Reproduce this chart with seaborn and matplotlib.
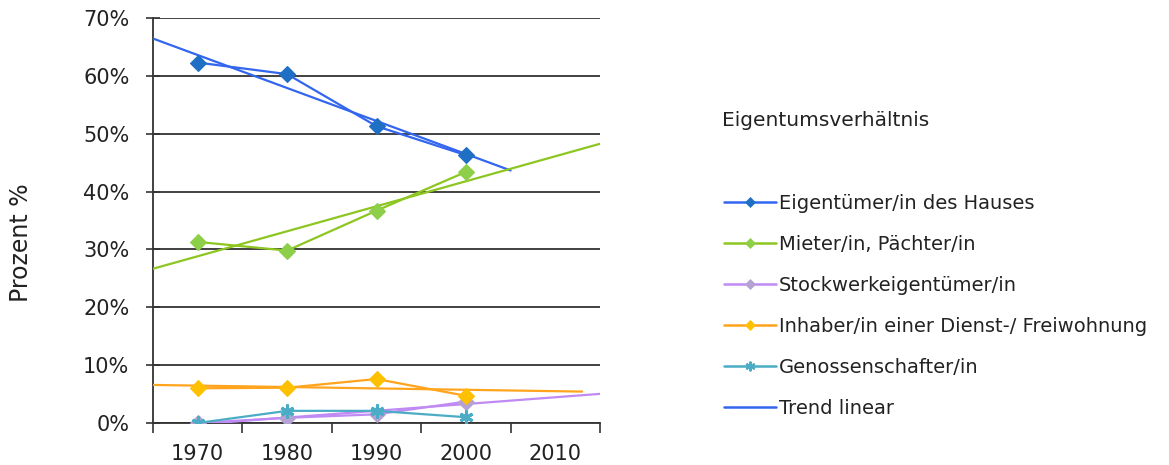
import numpy as np
import pandas as pd
import matplotlib
matplotlib.use("Agg")
import matplotlib.pyplot as plt
import seaborn as sns
from matplotlib.lines import Line2D

# --- data (percent of households by tenure) ---
years = ["1970", "1980", "1990", "2000", "2010"]
eigentuemer = [62.3, 60.3, 51.3, 46.3]
mieter = [31.3, 29.8, 36.7, 43.4]
stockwerk = [0.0, 0.9, 1.5, 3.7]
inhaber = [6.0, 6.1, 7.6, 4.7]
genossen = [0.0, 2.1, 2.1, 1.0]

series_names = [
    "Eigentümer/in des Hauses",
    "Mieter/in, Pächter/in",
    "Stockwerkeigentümer/in",
    "Inhaber/in einer Dienst-/ Freiwohnung",
    "Genossenschafter/in",
]
series_values = [eigentuemer, mieter, stockwerk, inhaber, genossen]

line_colors = ["#3366EE", "#8DC620", "#C08AF5", "#FFA41C", "#4BACC6"]
marker_colors = ["#1F6FC4", "#8ECF4A", "#B3A2D2", "#FFC000", "#4BACC6"]
markers = ["D", "D", "D", "D", (6, 2, 0)]
# trend-line extent (category positions) per series; None = no trend
trend_span = [(-0.5, 3.5), (-0.5, 4.5), (-0.5, 4.5), (-0.5, 4.3), None]

sns.set_theme(style="white")
plt.rcParams["font.family"] = ["DejaVu Sans"]

fig = plt.figure(figsize=(11.69, 4.65), dpi=100)
ax = fig.add_axes([153 / 1169, 1 - 423 / 465, (600 - 153) / 1169, (423 - 18) / 465])

x_pos = np.arange(len(eigentuemer))

for name, vals, lc, mc, mk, span in zip(series_names, series_values,
                                         line_colors, marker_colors,
                                         markers, trend_span):
    df = pd.DataFrame({"x": x_pos, "y": vals})
    # linear trend
    if span is not None:
        slope, icpt = np.polyfit(x_pos, vals, 1)
        tx = np.array(span)
        tdf = pd.DataFrame({"x": tx, "y": slope * tx + icpt})
        sns.lineplot(data=tdf, x="x", y="y", ax=ax, color=lc, linewidth=1.6,
                     zorder=3, legend=False)
    sns.lineplot(data=df, x="x", y="y", ax=ax, color=lc, linewidth=1.6,
                 marker=mk, markersize=8 if mk == "D" else 10,
                 markerfacecolor=mc, markeredgecolor=mc,
                 markeredgewidth=0.8 if mk == "D" else 2.2,
                 zorder=4, legend=False)

ax.set_xlim(-0.5, 4.5)
ax.set_ylim(0, 70)
ax.set_yticks(np.arange(0, 71, 10))
ax.set_yticklabels([f"{v}%" for v in range(0, 71, 10)], fontsize=15, color="#222222")
ax.set_xticks(np.arange(len(years)))
ax.set_xticklabels(years, fontsize=15, color="#222222")
ax.set_xticks(np.arange(-0.5, 4.6, 1.0), minor=True)
ax.tick_params(axis="x", which="major", length=0, pad=15)
ax.tick_params(axis="x", which="minor", length=7, width=1.2, color="#333333",
               direction="out", bottom=True)
ax.tick_params(axis="y", length=10, width=1.2, color="#333333",
               direction="inout", left=True, pad=12)

ax.grid(axis="y", color="#333333", linewidth=1.3)
ax.set_axisbelow(True)
for side in ["top", "right"]:
    ax.spines[side].set_visible(False)
for side in ["left", "bottom"]:
    ax.spines[side].set_color("#333333")
    ax.spines[side].set_linewidth(1.3)

ax.set_xlabel("")
ax.set_ylabel("Prozent %", fontsize=17, color="#222222")
ax.yaxis.set_label_coords((33 - 153) / (600 - 153), (423 - 243) / (423 - 18))

# legend
handles = []
for name, lc, mc, mk in zip(series_names, line_colors, marker_colors, markers):
    handles.append(Line2D([], [], color=lc, linewidth=1.8, marker=mk,
                          markersize=5 if mk == "D" else 7,
                          markerfacecolor=mc, markeredgecolor=mc,
                          markeredgewidth=1.5 if mk != "D" else 0.5))
handles.append(Line2D([], [], color="#3366EE", linewidth=1.8))
labels = series_names + ["Trend linear"]

fig.text(722 / 1169, 1 - 120 / 465, "Eigentumsverhältnis", fontsize=14.5,
         color="#222222", va="center", ha="left")
leg = fig.legend(handles, labels, loc="upper left",
                 bbox_to_anchor=(716 / 1169, 1 - 186 / 465),
                 frameon=False, fontsize=14, handlelength=2.7,
                 handletextpad=0.15, labelspacing=1.13, borderaxespad=0)
for t in leg.get_texts():
    t.set_color("#222222")

fig.savefig("out.png", dpi=100)
